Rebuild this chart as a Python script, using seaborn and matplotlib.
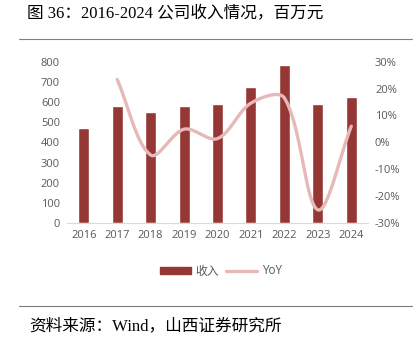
import numpy as np
import pandas as pd
import matplotlib
matplotlib.use('Agg')
import matplotlib.pyplot as plt
import seaborn as sns
from matplotlib.lines import Line2D
from matplotlib.patches import Patch

years = ['2016', '2017', '2018', '2019', '2020', '2021', '2022', '2023', '2024']
revenue = [470, 580, 553, 580, 588, 674, 785, 588, 623]
yoy = [np.nan, 23.4, -4.7, 4.9, 1.4, 14.6, 16.5, -25.1, 6.0]
left_ticks = [0, 100, 200, 300, 400, 500, 600, 700, 800]
right_ticks = [-30, -20, -10, 0, 10, 20, 30]

BAR_C = '#953735'
LINE_C = '#E6B9B8'
TICK_C = '#595959'
CJK = ['Liberation Serif', 'Noto Sans CJK SC']

sns.set_style('white')
plt.rcParams['font.family'] = ['Open Sans', 'Noto Sans CJK SC']

fig = plt.figure(figsize=(4.15, 3.43), dpi=100)
ax = fig.add_axes([67/415, 1-223/343, (368-67)/415, (223-61.7)/343])

df = pd.DataFrame({'year': years, 'revenue': revenue})
sns.barplot(data=df, x='year', y='revenue', color=BAR_C, saturation=1, width=0.33, ax=ax)
ax.set_ylim(0, 800)
ax.set_xlim(-0.5, 8.5)
ax.set_yticks(left_ticks)
ax.set_xlabel('')
ax.set_ylabel('')
for s in ['top', 'right', 'left']:
    ax.spines[s].set_visible(False)
ax.spines['bottom'].set_color('#D9D9D9')
ax.tick_params(axis='both', length=0, labelsize=8, colors=TICK_C, pad=5)

# smoothed line (Excel-like bezier, chord-length scaled, in display aspect)
sx, sy = 33.5, 161 / 60.0
pts = [(i * sx, v * sy) for i, v in enumerate(yoy) if not np.isnan(v)]
P = np.array(pts, dtype=float)
n = len(P)
t = np.linspace(0, 1, 40)
xs, ys = [], []

def ctrl(i, forward):
    p_prev = P[i - 1] if i > 0 else P[i]
    p_next = P[i + 1] if i + 1 < n else P[i]
    d = p_next - p_prev
    l_prev = np.linalg.norm(P[i] - p_prev)
    l_next = np.linalg.norm(p_next - P[i])
    tot = l_prev + l_next
    if tot == 0:
        return P[i]
    if forward:
        return P[i] + d * (1 / 3) * l_next / tot
    return P[i] - d * (1 / 3) * l_prev / tot

for i in range(n - 1):
    p1, p2 = P[i], P[i + 1]
    b1 = ctrl(i, True)
    b2 = ctrl(i + 1, False)
    seg = ((1 - t)[:, None] ** 3 * p1 + 3 * ((1 - t) ** 2 * t)[:, None] * b1
           + 3 * ((1 - t) * t ** 2)[:, None] * b2 + (t ** 3)[:, None] * p2)
    xs.extend(seg[:, 0] / sx); ys.extend(seg[:, 1] / sy)

ax2 = ax.twinx()
sns.lineplot(x=xs, y=ys, sort=False, color=LINE_C, linewidth=2.4, ax=ax2)
ax2.set_ylim(-30, 30)
ax2.set_yticks(right_ticks)
ax2.set_yticklabels([f'{v}%' for v in right_ticks])
ax2.set_xlim(-0.5, 8.5)
for s in ['top', 'right', 'left', 'bottom']:
    ax2.spines[s].set_visible(False)
ax2.tick_params(axis='y', length=0, labelsize=8, colors=TICK_C, pad=5)

handles = [Patch(color=BAR_C), Line2D([0], [0], color=LINE_C, linewidth=2.4)]
fig.legend(handles, ['收入', 'YoY'], loc='center', bbox_to_anchor=(221/415, 1-271/343),
           ncol=2, frameon=False, fontsize=8.5, labelcolor=TICK_C,
           handlelength=2.6, handleheight=0.6, columnspacing=0.6, handletextpad=0.4)

fig.text(27/415, 1-13/343, '图 36：2016-2024 公司收入情况，百万元', fontsize=12,
         family=CJK, va='center', ha='left', color='black')
fig.text(29/415, 1-326/343, '资料来源：Wind，山西证券研究所', fontsize=12,
         family=CJK, va='center', ha='left', color='black')
fig.add_artist(Line2D([19/415, 412/415], [1-38.5/343, 1-38.5/343], color='#7F7F7F', linewidth=0.8))
fig.add_artist(Line2D([19/415, 412/415], [1-306/343, 1-306/343], color='#7F7F7F', linewidth=0.8))

fig.savefig('out.png', dpi=100)
